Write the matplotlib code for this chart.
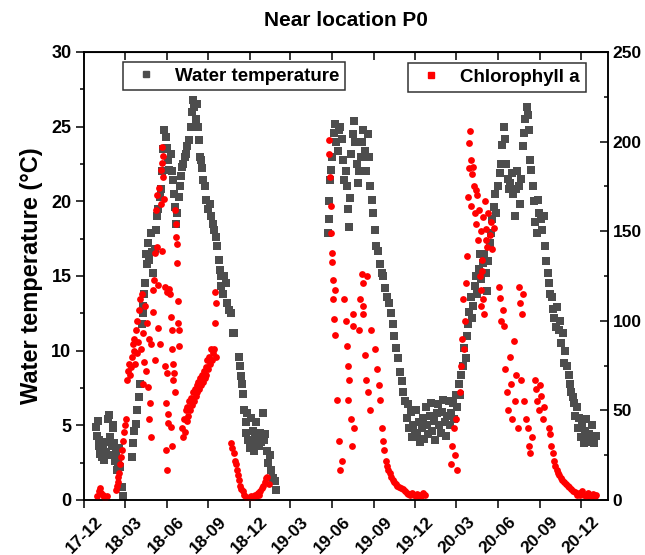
import matplotlib
matplotlib.use("Agg")
import matplotlib.pyplot as plt
import matplotlib.dates as mdates
from matplotlib.ticker import MultipleLocator
from matplotlib.lines import Line2D
import pandas as pd

plt.rcParams['font.family'] = ['Liberation Sans', 'DejaVu Sans']
plt.rcParams['font.weight'] = 'bold'

# water temperature (left axis, degC)
temp_2018 = [
    ("2017-12-27", 4.9), ("2017-12-29", 4.3), ("2017-12-31", 5.3), ("2018-01-02", 3.6), ("2018-01-04", 4.0),
    ("2018-01-06", 3.1), ("2018-01-09", 2.9), ("2018-01-12", 3.4), ("2018-01-15", 2.7), ("2018-01-18", 3.2),
    ("2018-01-21", 3.9), ("2018-01-23", 5.4), ("2018-01-25", 5.7), ("2018-01-27", 4.2), ("2018-01-29", 3.0),
    ("2018-01-31", 3.6), ("2018-02-02", 4.8), ("2018-02-04", 5.0), ("2018-02-06", 3.8), ("2018-02-08", 2.6),
    ("2018-02-10", 3.1), ("2018-02-12", 2.0), ("2018-02-14", 2.5), ("2018-02-17", 3.5), ("2018-02-19", 2.2),
    ("2018-02-22", 0.9), ("2018-02-25", 0.3),
    ("2018-03-16", 2.9), ("2018-03-19", 3.8), ("2018-03-22", 4.6), ("2018-03-25", 5.1), ("2018-03-28", 6.0),
    ("2018-04-01", 6.9), ("2018-04-04", 7.8), ("2018-04-07", 11.8), ("2018-04-09", 12.5), ("2018-04-11", 13.0),
    ("2018-04-13", 13.8), ("2018-04-15", 14.5), ("2018-04-17", 16.5), ("2018-04-19", 15.8), ("2018-04-21", 17.2),
    ("2018-04-24", 16.1), ("2018-04-27", 17.9), ("2018-04-30", 16.6), ("2018-05-03", 15.2), ("2018-05-06", 16.8),
    ("2018-05-09", 18.1), ("2018-05-11", 19.0), ("2018-05-14", 19.5), ("2018-05-17", 20.3), ("2018-05-20", 20.8),
    ("2018-05-23", 22.0), ("2018-05-25", 23.5), ("2018-05-27", 24.8), ("2018-05-30", 24.3), ("2018-06-02", 23.6),
    ("2018-06-04", 22.8), ("2018-06-07", 22.1), ("2018-06-10", 23.2), ("2018-06-12", 22.0), ("2018-06-15", 21.4),
    ("2018-06-18", 20.5), ("2018-06-20", 19.6), ("2018-06-22", 18.5), ("2018-06-25", 19.2), ("2018-06-28", 20.3),
    ("2018-06-30", 21.0), ("2018-07-03", 21.7), ("2018-07-05", 22.3), ("2018-07-08", 22.5), ("2018-07-11", 23.0),
    ("2018-07-14", 23.2), ("2018-07-17", 23.7), ("2018-07-21", 24.1), ("2018-07-24", 25.0), ("2018-07-27", 26.0),
    ("2018-07-29", 26.8), ("2018-08-01", 26.3), ("2018-08-04", 25.5), ("2018-08-06", 26.5), ("2018-08-09", 25.0),
    ("2018-08-11", 24.1), ("2018-08-13", 23.0), ("2018-08-16", 22.8), ("2018-08-19", 22.2), ("2018-08-21", 21.4),
    ("2018-08-25", 21.0), ("2018-08-28", 20.1), ("2018-08-31", 19.5), ("2018-09-04", 19.8), ("2018-09-07", 19.0),
    ("2018-09-11", 18.5), ("2018-09-14", 18.1), ("2018-09-18", 17.6), ("2018-09-21", 17.0), ("2018-09-24", 16.1),
    ("2018-09-26", 15.4), ("2018-09-28", 15.0), ("2018-09-30", 14.3), ("2018-10-03", 13.8), ("2018-10-06", 15.0),
    ("2018-10-10", 14.5), ("2018-10-13", 13.2), ("2018-10-17", 12.7), ("2018-10-21", 12.5), ("2018-10-25", 11.2),
    ("2018-10-28", 11.2), ("2018-11-08", 9.6), ("2018-11-10", 9.0), ("2018-11-12", 8.3), ("2018-11-14", 7.8),
    ("2018-11-17", 7.1), ("2018-11-19", 6.0), ("2018-11-22", 5.2), ("2018-11-24", 4.5), ("2018-11-26", 5.8),
    ("2018-11-28", 4.0), ("2018-12-01", 3.5), ("2018-12-03", 5.5), ("2018-12-05", 3.8), ("2018-12-08", 4.6),
    ("2018-12-10", 3.3), ("2018-12-13", 4.2), ("2018-12-16", 5.2), ("2018-12-18", 4.0), ("2018-12-21", 3.6),
    ("2018-12-24", 4.5), ("2018-12-27", 3.9), ("2018-12-30", 5.8), ("2019-01-02", 4.0), ("2019-01-05", 4.4),
    ("2019-01-08", 3.3), ("2019-01-11", 2.5), ("2019-01-14", 3.0), ("2019-01-17", 2.0), ("2019-01-21", 1.5),
    ("2019-01-25", 1.3), ("2019-01-28", 0.7),
]
temp_2019 = [
    ("2019-05-22", 17.9), ("2019-05-24", 18.8), ("2019-05-26", 20.0), ("2019-05-28", 21.4), ("2019-05-30", 22.1),
    ("2019-06-01", 23.0), ("2019-06-04", 24.6), ("2019-06-07", 25.2), ("2019-06-10", 24.0), ("2019-06-13", 23.4),
    ("2019-06-16", 24.8), ("2019-06-19", 25.0), ("2019-06-22", 24.2), ("2019-06-25", 22.8), ("2019-06-28", 21.4),
    ("2019-07-01", 22.0), ("2019-07-03", 21.0), ("2019-07-06", 19.5), ("2019-07-08", 18.3), ("2019-07-10", 20.2),
    ("2019-07-13", 23.2), ("2019-07-16", 24.5), ("2019-07-19", 25.4), ("2019-07-22", 24.0), ("2019-07-25", 22.5),
    ("2019-07-28", 21.2), ("2019-07-31", 22.0), ("2019-08-03", 23.0), ("2019-08-06", 24.0), ("2019-08-09", 24.8),
    ("2019-08-12", 23.4), ("2019-08-15", 22.0), ("2019-08-18", 24.5), ("2019-08-21", 23.0), ("2019-08-24", 21.0),
    ("2019-08-27", 20.1), ("2019-08-30", 19.2), ("2019-09-03", 18.1), ("2019-09-06", 17.0), ("2019-09-10", 16.7),
    ("2019-09-14", 15.8), ("2019-09-18", 15.2), ("2019-09-22", 15.0), ("2019-09-26", 14.2), ("2019-09-30", 13.6),
    ("2019-10-04", 13.2), ("2019-10-08", 12.5), ("2019-10-12", 11.8), ("2019-10-16", 11.0), ("2019-10-20", 10.2),
    ("2019-10-24", 9.5), ("2019-10-28", 8.6), ("2019-11-01", 8.0), ("2019-11-05", 7.2), ("2019-11-09", 6.6),
    ("2019-11-12", 5.5), ("2019-11-15", 6.4), ("2019-11-18", 4.8), ("2019-11-21", 5.9), ("2019-11-24", 4.2),
    ("2019-11-27", 5.0), ("2019-11-30", 4.5), ("2019-12-03", 6.0), ("2019-12-06", 4.3), ("2019-12-09", 5.2),
    ("2019-12-12", 3.9), ("2019-12-15", 4.8), ("2019-12-18", 5.5), ("2019-12-21", 4.1), ("2019-12-24", 6.2),
    ("2019-12-27", 5.0), ("2019-12-30", 4.4), ("2020-01-02", 5.6), ("2020-01-05", 6.5), ("2020-01-08", 4.6),
    ("2020-01-11", 5.3), ("2020-01-14", 4.0), ("2020-01-17", 5.8), ("2020-01-20", 6.4), ("2020-01-23", 5.0),
    ("2020-01-26", 4.5), ("2020-01-29", 5.9), ("2020-02-01", 6.7), ("2020-02-04", 5.2), ("2020-02-07", 4.3),
    ("2020-02-10", 5.6), ("2020-02-13", 6.6), ("2020-02-16", 5.0), ("2020-02-19", 5.8), ("2020-02-22", 6.5),
    ("2020-02-25", 5.4), ("2020-02-28", 7.0), ("2020-03-03", 6.2), ("2020-03-06", 7.8), ("2020-03-09", 7.0),
    ("2020-03-12", 8.4), ("2020-03-15", 9.0), ("2020-03-18", 10.2), ("2020-03-21", 9.5), ("2020-03-24", 11.0),
]
temp_2020 = [
    ("2020-03-26", 11.8), ("2020-03-29", 12.6), ("2020-04-01", 13.6), ("2020-04-04", 12.2), ("2020-04-07", 13.0),
    ("2020-04-10", 14.3), ("2020-04-13", 15.0), ("2020-04-16", 13.8), ("2020-04-19", 15.5), ("2020-04-22", 16.5),
    ("2020-04-25", 14.8), ("2020-04-28", 15.9), ("2020-05-01", 16.5), ("2020-05-04", 15.2), ("2020-05-07", 14.0),
    ("2020-05-10", 16.0), ("2020-05-13", 17.2), ("2020-05-16", 17.9), ("2020-05-19", 18.8), ("2020-05-22", 19.6),
    ("2020-05-25", 20.5), ("2020-05-28", 19.2), ("2020-06-01", 21.0), ("2020-06-04", 21.9), ("2020-06-07", 22.5),
    ("2020-06-10", 23.8), ("2020-06-13", 25.0), ("2020-06-16", 24.2), ("2020-06-19", 22.5), ("2020-06-22", 21.5),
    ("2020-06-25", 20.8), ("2020-06-28", 21.2), ("2020-07-01", 21.9), ("2020-07-04", 20.5), ("2020-07-07", 19.0),
    ("2020-07-10", 20.8), ("2020-07-13", 22.0), ("2020-07-16", 21.0), ("2020-07-19", 19.8), ("2020-07-22", 21.5),
    ("2020-07-25", 23.7), ("2020-07-28", 24.6), ("2020-07-31", 25.5), ("2020-08-03", 26.3), ("2020-08-06", 25.8),
    ("2020-08-08", 24.8), ("2020-08-10", 22.8), ("2020-08-13", 22.1), ("2020-08-16", 21.0), ("2020-08-19", 20.0),
    ("2020-08-22", 18.6), ("2020-08-25", 17.9), ("2020-08-28", 20.1), ("2020-08-31", 19.2), ("2020-09-03", 18.8),
    ("2020-09-06", 18.1), ("2020-09-09", 19.0), ("2020-09-12", 17.0), ("2020-09-15", 16.0), ("2020-09-18", 15.2),
    ("2020-09-21", 14.5), ("2020-09-24", 13.8), ("2020-09-27", 13.6), ("2020-09-30", 12.8), ("2020-10-03", 12.2),
    ("2020-10-06", 11.6), ("2020-10-09", 12.9), ("2020-10-12", 11.4), ("2020-10-15", 12.0), ("2020-10-18", 10.5),
    ("2020-10-21", 11.2), ("2020-10-24", 9.2), ("2020-10-27", 10.0), ("2020-10-30", 9.0), ("2020-11-03", 8.4),
    ("2020-11-06", 7.8), ("2020-11-09", 7.2), ("2020-11-12", 6.9), ("2020-11-15", 6.5), ("2020-11-18", 5.6),
    ("2020-11-21", 6.2), ("2020-11-24", 4.8), ("2020-11-27", 5.5), ("2020-11-30", 4.2), ("2020-12-03", 5.0),
    ("2020-12-06", 3.8), ("2020-12-09", 4.6), ("2020-12-12", 5.4), ("2020-12-15", 4.0), ("2020-12-18", 4.4),
    ("2020-12-21", 3.9), ("2020-12-24", 5.0), ("2020-12-27", 4.2), ("2020-12-30", 3.8), ("2021-01-02", 4.3),
]

# chlorophyll a (right axis)
chl_2018 = [
    ("2017-12-30", 2), ("2018-01-02", 5), ("2018-01-05", 6.5), ("2018-01-08", 4), ("2018-01-11", 3),
    ("2018-01-14", 1.5), ("2018-01-17", 1), ("2018-01-20", 2.5),
    ("2018-02-09", 5.6), ("2018-02-11", 8), ("2018-02-13", 10), ("2018-02-15", 13), ("2018-02-17", 15),
    ("2018-02-19", 20), ("2018-02-21", 24), ("2018-02-23", 28), ("2018-02-25", 33), ("2018-02-27", 38),
    ("2018-03-01", 42), ("2018-03-03", 45), ("2018-03-06", 67), ("2018-03-08", 72), ("2018-03-10", 76),
    ("2018-03-12", 70), ("2018-03-14", 74), ("2018-03-17", 80), ("2018-03-19", 87), ("2018-03-21", 83),
    ("2018-03-24", 76), ("2018-03-27", 82), ("2018-03-22", 90), ("2018-03-25", 95), ("2018-03-28", 100),
    ("2018-03-30", 88), ("2018-04-01", 106), ("2018-04-03", 112), ("2018-04-05", 84), ("2018-04-07", 115),
    ("2018-04-09", 65), ("2018-04-11", 93), ("2018-04-13", 77), ("2018-04-15", 108), ("2018-04-17", 72),
    ("2018-04-19", 99), ("2018-04-21", 63), ("2018-04-23", 90), ("2018-04-24", 45), ("2018-04-25", 54),
    ("2018-04-27", 35), ("2018-04-28", 87), ("2018-05-01", 117), ("2018-05-02", 105), ("2018-05-04", 123),
    ("2018-05-06", 138), ("2018-05-07", 78), ("2018-05-09", 162), ("2018-05-10", 141), ("2018-05-12", 170),
    ("2018-05-13", 96), ("2018-05-14", 120), ("2018-05-16", 174), ("2018-05-17", 87), ("2018-05-19", 165),
    ("2018-05-20", 184), ("2018-05-21", 139), ("2018-05-22", 197), ("2018-05-23", 188), ("2018-05-24", 180),
    ("2018-05-25", 192), ("2018-05-26", 168), ("2018-05-28", 119), ("2018-05-29", 75), ("2018-05-30", 54),
    ("2018-05-31", 28), ("2018-06-01", 17), ("2018-06-02", 71), ("2018-06-03", 116), ("2018-06-04", 43),
    ("2018-06-05", 48), ("2018-06-07", 118), ("2018-06-09", 115), ("2018-06-10", 102), ("2018-06-11", 41),
    ("2018-06-12", 84), ("2018-06-13", 30), ("2018-06-14", 95), ("2018-06-15", 76), ("2018-06-16", 67),
    ("2018-06-17", 71), ("2018-06-19", 60), ("2018-06-20", 162), ("2018-06-21", 154), ("2018-06-22", 147),
    ("2018-06-23", 143), ("2018-06-25", 132), ("2018-06-26", 111), ("2018-06-27", 99), ("2018-06-28", 95),
    ("2018-06-29", 86), ("2018-07-06", 40), ("2018-07-07", 35), ("2018-07-09", 45), ("2018-07-11", 38),
    ("2018-07-13", 50), ("2018-07-15", 44), ("2018-07-17", 52), ("2018-07-19", 47), ("2018-07-21", 55),
    ("2018-07-23", 50), ("2018-07-25", 57), ("2018-07-27", 53), ("2018-07-29", 60), ("2018-07-31", 55),
    ("2018-08-02", 62), ("2018-08-04", 58), ("2018-08-06", 64), ("2018-08-08", 60), ("2018-08-10", 66),
    ("2018-08-12", 62), ("2018-08-14", 68), ("2018-08-16", 64), ("2018-08-18", 70), ("2018-08-20", 66),
    ("2018-08-22", 72), ("2018-08-24", 68), ("2018-08-26", 74), ("2018-08-28", 70), ("2018-08-30", 78),
    ("2018-09-01", 73), ("2018-09-03", 80), ("2018-09-05", 76), ("2018-09-07", 84), ("2018-09-09", 78),
    ("2018-09-11", 82), ("2018-09-14", 84), ("2018-09-15", 99), ("2018-09-16", 116), ("2018-09-17", 80),
    ("2018-09-18", 110), ("2018-10-22", 32), ("2018-10-24", 29), ("2018-10-27", 26), ("2018-10-29", 22),
    ("2018-11-01", 20), ("2018-11-03", 17), ("2018-11-05", 14), ("2018-11-08", 11), ("2018-11-10", 8),
    ("2018-11-13", 6), ("2018-11-16", 5), ("2018-11-19", 3), ("2018-11-22", 1.5), ("2018-11-25", 1),
    ("2018-11-28", 0.5), ("2018-12-01", 1.5), ("2018-12-04", 2.5), ("2018-12-07", 1), ("2018-12-10", 2),
    ("2018-12-13", 3), ("2018-12-16", 2), ("2018-12-19", 4), ("2018-12-22", 3), ("2018-12-25", 5),
    ("2018-12-28", 6.5), ("2018-12-31", 8), ("2019-01-03", 10), ("2019-01-06", 12), ("2019-01-09", 13),
    ("2019-01-12", 9),
]
chl_2019 = [
    ("2019-05-25", 193), ("2019-05-26", 201), ("2019-05-27", 180), ("2019-05-29", 164), ("2019-05-30", 149),
    ("2019-05-31", 138), ("2019-06-01", 133), ("2019-06-02", 123), ("2019-06-03", 112), ("2019-06-05", 101),
    ("2019-06-07", 117), ("2019-06-08", 92), ("2019-06-12", 56), ("2019-06-16", 33), ("2019-06-18", 17),
    ("2019-06-22", 22), ("2019-06-28", 112), ("2019-07-02", 100), ("2019-07-04", 86), ("2019-07-07", 75),
    ("2019-07-09", 67), ("2019-07-06", 56), ("2019-07-12", 45), ("2019-07-14", 30), ("2019-07-16", 104),
    ("2019-07-18", 97), ("2019-07-20", 40), ("2019-07-30", 95), ("2019-08-02", 112), ("2019-08-06", 126),
    ("2019-08-07", 121), ("2019-08-08", 108), ("2019-08-09", 104), ("2019-08-12", 81), ("2019-08-14", 67),
    ("2019-08-16", 125), ("2019-08-20", 60), ("2019-08-23", 50), ("2019-08-25", 95), ("2019-09-04", 84),
    ("2019-09-07", 73), ("2019-09-12", 64), ("2019-09-15", 56), ("2019-09-18", 40), ("2019-09-21", 33),
    ("2019-09-24", 28), ("2019-09-27", 22), ("2019-09-30", 19), ("2019-10-03", 17), ("2019-10-06", 15),
    ("2019-10-09", 13), ("2019-10-12", 11), ("2019-10-15", 10), ("2019-10-19", 9), ("2019-10-23", 8),
    ("2019-10-27", 7), ("2019-10-31", 6.5), ("2019-11-04", 6), ("2019-11-08", 5), ("2019-11-12", 4),
    ("2019-11-16", 3.5), ("2019-11-20", 3), ("2019-11-24", 4), ("2019-11-28", 3), ("2019-12-02", 2.5),
    ("2019-12-06", 3.5), ("2019-12-10", 3), ("2019-12-14", 2.5), ("2019-12-18", 4), ("2019-12-22", 3),
]
chl_2020 = [
    ("2020-02-18", 20), ("2020-02-21", 30), ("2020-02-24", 40), ("2020-02-27", 25), ("2020-03-01", 45),
    ("2020-03-03", 17), ("2020-03-08", 60), ("2020-03-10", 75), ("2020-03-13", 90), ("2020-03-16", 112),
    ("2020-03-18", 84), ("2020-03-20", 100), ("2020-03-23", 121), ("2020-03-24", 136), ("2020-03-26", 169),
    ("2020-03-28", 185), ("2020-03-29", 199), ("2020-03-30", 206), ("2020-04-01", 190), ("2020-04-02", 164),
    ("2020-04-04", 182), ("2020-04-06", 186), ("2020-04-08", 175), ("2020-04-10", 160), ("2020-04-12", 173),
    ("2020-04-14", 154), ("2020-04-16", 170), ("2020-04-18", 145), ("2020-04-20", 162), ("2020-04-22", 125),
    ("2020-04-23", 117), ("2020-04-24", 108), ("2020-04-25", 150), ("2020-04-26", 128), ("2020-04-27", 134),
    ("2020-04-28", 112), ("2020-04-29", 158), ("2020-04-30", 104), ("2020-05-02", 167), ("2020-05-04", 145),
    ("2020-05-06", 151), ("2020-05-08", 141), ("2020-05-10", 160), ("2020-05-13", 148), ("2020-05-16", 155),
    ("2020-05-19", 140), ("2020-05-22", 152), ("2020-06-02", 119), ("2020-06-05", 113), ("2020-06-08", 100),
    ("2020-06-11", 106), ("2020-06-14", 97), ("2020-06-17", 73), ("2020-06-20", 60), ("2020-06-23", 50),
    ("2020-06-26", 80), ("2020-06-29", 65), ("2020-07-02", 45), ("2020-07-05", 89), ("2020-07-08", 55),
    ("2020-07-11", 70), ("2020-07-14", 40), ("2020-07-17", 119), ("2020-07-20", 110), ("2020-07-23", 104),
    ("2020-07-26", 115), ("2020-07-22", 67), ("2020-07-28", 55), ("2020-08-01", 45), ("2020-08-05", 40),
    ("2020-08-08", 30), ("2020-08-11", 26), ("2020-08-14", 35), ("2020-08-20", 67), ("2020-08-23", 62),
    ("2020-08-26", 55), ("2020-08-29", 50), ("2020-09-01", 64), ("2020-09-04", 58), ("2020-09-07", 45),
    ("2020-09-10", 52), ("2020-09-20", 40), ("2020-09-23", 37), ("2020-09-26", 30), ("2020-09-29", 26),
    ("2020-10-02", 22), ("2020-10-05", 19), ("2020-10-08", 17), ("2020-10-11", 15), ("2020-10-14", 14),
    ("2020-10-17", 12), ("2020-10-20", 11), ("2020-10-24", 10), ("2020-10-28", 9), ("2020-11-01", 8),
    ("2020-11-05", 7), ("2020-11-09", 6), ("2020-11-13", 5), ("2020-11-17", 4.5), ("2020-11-21", 3),
    ("2020-11-25", 4), ("2020-11-29", 3), ("2020-12-03", 5), ("2020-12-07", 3), ("2020-12-11", 2.5),
    ("2020-12-15", 4), ("2020-12-19", 3), ("2020-12-23", 2), ("2020-12-27", 3.5), ("2020-12-31", 2.5),
    ("2021-01-03", 3),
]


def unpack(*parts):
    pairs = [p for part in parts for p in part]
    return pd.to_datetime([p[0] for p in pairs]), [p[1] for p in pairs]


temp_x, temp_y = unpack(temp_2018, temp_2019, temp_2020)
chl_x, chl_y = unpack(chl_2018, chl_2019, chl_2020)

gray = '#4d4d4d'
fs = 13

fig = plt.figure(figsize=(6.45, 5.55), dpi=100)
ax = fig.add_axes([84 / 645, 55 / 555, 524 / 645, 448 / 555])
ax2 = ax.twinx()

ax.scatter(temp_x, temp_y, marker='s', s=32, color=gray, linewidths=0)
ax2.scatter(chl_x, chl_y, marker='o', s=24, color='red', linewidths=0)

ax.set_xlim(pd.Timestamp('2017-12-01'), pd.Timestamp('2021-01-29'))
ax.set_ylim(0, 30)
ax2.set_ylim(0, 250)

ax.xaxis.set_major_locator(mdates.MonthLocator(bymonth=[3, 6, 9, 12]))
ax.xaxis.set_major_formatter(mdates.DateFormatter('%y-%m'))
ax.yaxis.set_major_locator(MultipleLocator(5))
ax.yaxis.set_minor_locator(MultipleLocator(2.5))
ax2.yaxis.set_major_locator(MultipleLocator(50))
ax2.yaxis.set_minor_locator(MultipleLocator(25))

for a in (ax, ax2):
    for s in a.spines.values():
        s.set_linewidth(1.1)

ax.tick_params(axis='x', which='major', direction='out', length=6, width=1.1,
               labelsize=12.5, pad=4)
ax.tick_params(axis='y', which='major', direction='out', length=6, width=1.1,
               labelsize=fs, pad=3)
ax.tick_params(axis='y', which='minor', direction='out', length=3, width=1.1)
ax2.tick_params(axis='y', which='major', direction='in', length=6, width=1.1,
                labelsize=12.5, pad=3.5)
ax2.tick_params(axis='y', which='minor', direction='in', length=3, width=1.1)
for lab in ax.get_xticklabels():
    lab.set_rotation(45)
    lab.set_ha('center')
    lab.set_fontweight('bold')

# top axis: same ticks pointing inward, no labels
top = ax.secondary_xaxis('top')
top.xaxis.set_major_locator(mdates.MonthLocator(bymonth=[3, 6, 9, 12]))
top.tick_params(direction='in', length=6, width=1.1, labeltop=False)

ax.set_ylabel('Water temperature (\u00b0C)', fontsize=17, fontweight='bold', labelpad=6)
fig.text(346 / 645, 1 - 20 / 555, 'Near location P0', ha='center', va='center',
         fontsize=15, fontweight='bold')

h1 = Line2D([], [], ls='none', marker='s', ms=5, color=gray)
h2 = Line2D([], [], ls='none', marker='s', ms=4.5, color='red')
leg_kw = dict(loc='upper left', frameon=True, fancybox=False,
              borderaxespad=0, borderpad=0.3, handlelength=1.9, handletextpad=0.6,
              prop={'weight': 'bold', 'size': 13.5})
leg1 = ax2.legend([h1], ['Water temperature'], bbox_to_anchor=(0.074, 0.978), **leg_kw)
leg1.get_frame().set_edgecolor('black')
leg1.get_frame().set_linewidth(1.1)
ax2.add_artist(leg1)
leg2 = ax2.legend([h2], ['Chlorophyll a'], bbox_to_anchor=(0.618, 0.975), **leg_kw)
leg2.get_frame().set_edgecolor('black')
leg2.get_frame().set_linewidth(1.1)

fig.savefig('out.png', dpi=100)
